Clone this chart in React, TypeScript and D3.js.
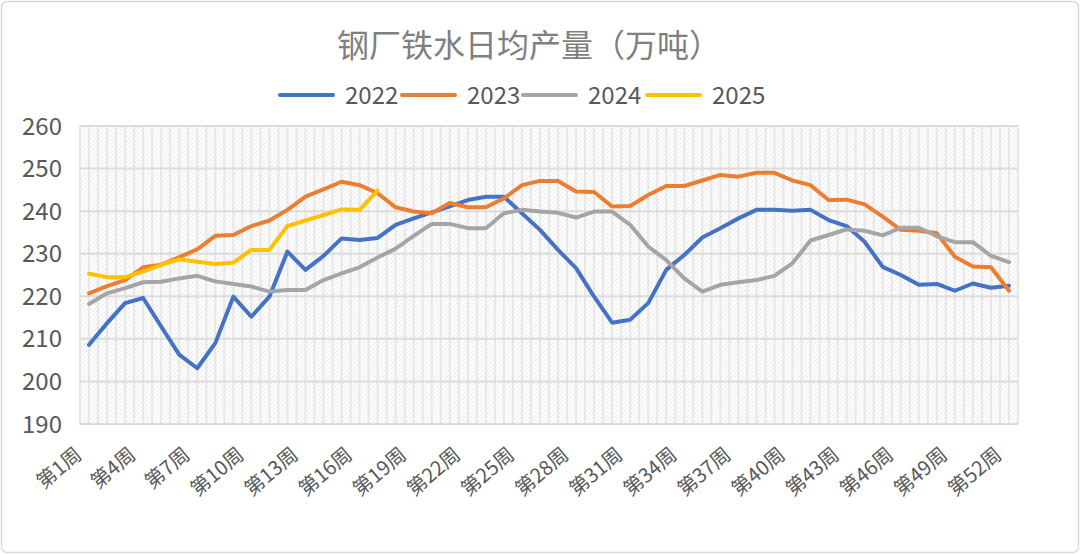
import { useEffect } from 'react';
import * as d3 from 'd3';

const weeks = d3.range(1, 53).map(i => `第${i}周`);
const yTicks = [190, 200, 210, 220, 230, 240, 250, 260];

const years = ['2022', '2023', '2024', '2025'];
const colors = ['#4472C4', '#ED7D31', '#A5A5A5', '#FFC000'];

const v2022 = [
  208.6, 213.7, 218.4, 219.6, 212.9, 206.3, 203.1, 209.0, 219.9, 215.2,
  219.9, 230.5, 226.2, 229.5, 233.6, 233.2, 233.7, 236.8, 238.3, 239.7,
  241.1, 242.6, 243.4, 243.4, 239.5, 235.6, 230.9, 226.6, 219.9, 213.8,
  214.5, 218.4, 226.2, 229.7, 233.8, 236.0, 238.3, 240.3, 240.3, 240.1,
  240.3, 237.9, 236.5, 232.8, 226.9, 225.0, 222.7, 222.9, 221.3, 223.0,
  222.0, 222.5,
];
const v2023 = [
  220.7, 222.4, 223.8, 226.8, 227.4, 229.2, 231.0, 234.2, 234.4, 236.5,
  237.8, 240.3, 243.4, 245.1, 246.9, 246.1, 244.2, 240.9, 239.9, 239.5,
  241.9, 240.9, 240.9, 243.0, 246.1, 247.1, 247.1, 244.6, 244.5, 241.1,
  241.2, 243.8, 245.9, 245.9, 247.2, 248.5, 248.1, 249.0, 249.0, 247.2,
  246.1, 242.6, 242.7, 241.6, 238.7, 235.6, 235.4, 234.8, 229.3, 227.0,
  226.8, 221.3,
];
const v2024 = [
  218.2, 220.7, 221.9, 223.3, 223.4, 224.2, 224.8, 223.5, 222.9, 222.3,
  221.1, 221.5, 221.5, 223.8, 225.4, 226.8, 229.1, 231.2, 234.2, 237.0,
  237.0, 236.0, 236.0, 239.5, 240.3, 239.9, 239.6, 238.5, 239.9, 239.9,
  236.8, 231.7, 228.5, 224.2, 221.1, 222.7, 223.3, 223.8, 224.8, 227.8,
  233.1, 234.4, 235.7, 235.4, 234.3, 236.1, 236.1, 234.1, 232.7, 232.7,
  229.5, 228.0,
];
const v2025 = [
  225.3, 224.5, 224.5, 225.8, 227.4, 228.7, 228.1, 227.6, 227.9, 230.9,
  230.9, 236.5, 237.8, 239.1, 240.4, 240.3, 244.8,
];

const seriesValues = [v2022, v2023, v2024, v2025];

const W = 1080;
const H = 554;
const plot = { left: 80, right: 1018, top: 126, bottom: 424 };
const font = '"Noto Sans CJK SC", "Noto Sans", sans-serif';

export default function App() {
  useEffect(() => {
    document.body.style.margin = '0';
  }, []);

  const x = d3.scalePoint<string>().domain(weeks).range([plot.left, plot.right]).padding(0.5);
  const y = d3.scaleLinear().domain([190, 260]).range([plot.bottom, plot.top]);
  const step = x.step();

  const line = d3
    .line<number>()
    .x((_, i) => x(weeks[i]) as number)
    .y(d => y(d));

  // vertical stripes at category edges and midpoints
  const stripes = d3.range(0, weeks.length * 2 + 1).map(k => plot.left + (k * step) / 2);

  const legendX = [278, 400, 521, 645];

  return (
    <svg width={W} height={H} style={{ display: 'block', fontFamily: font }}>
      <defs>
        <pattern id="hatch" width="3" height="3" patternUnits="userSpaceOnUse" patternTransform="rotate(45)">
          <rect width="3" height="3" fill="#ffffff" />
          <line x1="0" y1="0" x2="0" y2="3" stroke="#e6e6e6" strokeWidth="1.5" />
        </pattern>
      </defs>
      <rect x={1.5} y={1.5} width={W - 3} height={H - 3} rx={6} fill="#fff" stroke="#d9d9d9" strokeWidth={1.5} />

      <text x={529} y={57} textAnchor="middle" fontSize={32} fill="#7f7f7f">
        钢厂铁水日均产量（万吨）
      </text>

      {years.map((yr, i) => (
        <g key={yr} transform={`translate(${legendX[i]},95)`}>
          <line x1={2} x2={55} y1={0} y2={0} stroke={colors[i]} strokeWidth={4} strokeLinecap="round" />
          <text x={67} y={9} fontSize={24} fill="#595959">{yr}</text>
        </g>
      ))}

      <rect
        x={plot.left}
        y={plot.top}
        width={plot.right - plot.left}
        height={plot.bottom - plot.top}
        fill="url(#hatch)"
        stroke="#e0e0e0"
        strokeWidth={1.5}
      />
      {stripes.map((sx, i) => (
        <line key={`v${i}`} x1={sx} x2={sx} y1={plot.top} y2={plot.bottom} stroke="#e7e7e7" strokeWidth={2} />
      ))}
      {yTicks.map(t => (
        <g key={t}>
          <line x1={plot.left} x2={plot.right} y1={y(t)} y2={y(t)} stroke="#dcdcdc" strokeWidth={2} />
          <text x={62} y={y(t) + 8.5} textAnchor="end" fontSize={24} fill="#595959">{t}</text>
        </g>
      ))}

      {seriesValues.map((vals, i) => (
        <path
          key={years[i]}
          d={line(vals) as string}
          fill="none"
          stroke={colors[i]}
          strokeWidth={4}
          strokeLinejoin="round"
          strokeLinecap="round"
        />
      ))}

      {weeks.map((w, i) =>
        i % 3 === 0 ? (
          <text
            key={w}
            transform={`translate(${(x(w) as number) - 6},${plot.bottom + 33}) rotate(-40)`}
            textAnchor="end"
            fontSize={20}
            fill="#595959"
          >
            {w}
          </text>
        ) : null
      )}
    </svg>
  );
}
